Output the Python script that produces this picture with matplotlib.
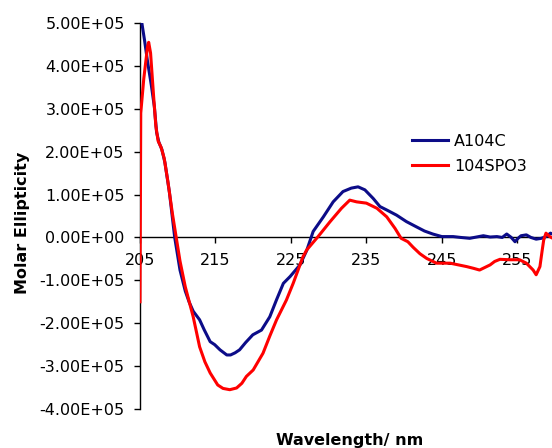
import numpy as np
import matplotlib
matplotlib.use("Agg")
import matplotlib.pyplot as plt
from matplotlib.ticker import MultipleLocator, FormatStrFormatter

# CD spectra, molar ellipticity in units of 1e5
wl_a104c = [205.2, 205.6, 206.0, 206.5, 206.9, 207.2, 207.5, 207.9, 208.3, 208.9,
            209.6, 210.3, 211.0, 211.5, 212.05, 212.9, 213.5, 214.3, 214.9, 215.6,
            216.5, 217.0, 217.6, 218.2, 219.0, 219.95, 221.1, 222.2, 223.1, 224.0,
            224.9, 226.2, 227.1, 227.95, 229.3, 230.6, 231.9, 233.0, 233.9, 234.8,
            235.9, 236.8, 237.7, 239.0, 240.3, 241.6, 242.7, 243.8, 245.0, 246.5,
            247.5, 248.7, 249.6, 250.5, 251.4, 252.3, 253.0, 253.6, 254.2, 254.7,
            255.1, 255.5, 256.2, 256.8, 257.5, 258.2, 258.8, 259.4, 260.0]
a104c = [5.05, 4.6, 4.1, 3.55, 3.05, 2.45, 2.22, 2.05, 1.75, 1.05,
         0.0, -0.76, -1.25, -1.5, -1.72, -1.92, -2.15, -2.43, -2.5, -2.62,
         -2.74, -2.74, -2.69, -2.62, -2.45, -2.27, -2.16, -1.85, -1.45, -1.07,
         -0.91, -0.64, -0.3, 0.14, 0.48, 0.83, 1.07, 1.15, 1.18, 1.11,
         0.91, 0.72, 0.64, 0.52, 0.37, 0.25, 0.15, 0.08, 0.02, 0.02,
         0.0, -0.02, 0.01, 0.04, 0.01, 0.02, 0.0, 0.08, 0.0, -0.1,
         -0.02, 0.04, 0.06, 0.0, -0.04, -0.02, 0.02, 0.1, 0.05]

wl_spo3 = [205.0, 205.1, 205.5, 206.0, 206.15, 206.4, 206.8, 207.1, 207.4, 207.8,
           208.2, 208.7, 209.3, 209.8, 210.3, 211.0, 212.05, 212.9, 213.6, 214.3,
           215.3, 216.0, 216.9, 217.8, 218.5, 219.1, 220.0, 221.3, 222.2, 223.1,
           224.4, 225.3, 226.6, 227.1, 228.6, 230.2, 231.7, 232.8, 233.7, 235.0,
           236.4, 237.7, 238.8, 239.6, 240.5, 241.2, 242.1, 243.0, 244.3, 246.1,
           247.2, 248.3, 249.2, 250.0, 250.7, 251.4, 252.0, 252.7, 254.0, 255.3,
           256.2, 257.1, 257.5, 258.0, 258.3, 258.5, 258.8, 259.3, 260.0]
spo3 = [-1.5, 2.9, 3.7, 4.45, 4.55, 4.3, 3.3, 2.6, 2.25, 2.1,
        1.85, 1.3, 0.55, 0.0, -0.55, -1.15, -1.85, -2.55, -2.9, -3.16,
        -3.44, -3.52, -3.55, -3.51, -3.4, -3.24, -3.09, -2.7, -2.3, -1.92,
        -1.46, -1.07, -0.45, -0.29, 0.02, 0.37, 0.68, 0.87, 0.83, 0.8,
        0.68, 0.48, 0.21, -0.02, -0.1, -0.23, -0.38, -0.49, -0.6, -0.6,
        -0.64, -0.68, -0.72, -0.76, -0.7, -0.64, -0.56, -0.51, -0.52, -0.52,
        -0.6, -0.76, -0.87, -0.68, -0.3, -0.06, 0.1, 0.02, -0.05]

labels = ["A104C", "104SPO3"]
colors = ["#0c0c88", "#ff0000"]
xticks = [205, 215, 225, 235, 245, 255]

plt.rcParams["font.family"] = "DejaVu Sans"
plt.rcParams["font.size"] = 11.5

fig = plt.figure(figsize=(5.52, 4.48), dpi=100)
ax = fig.add_axes([140 / 552, 39 / 448, 412 / 552, 386 / 448])

ax.plot(wl_a104c, np.array(a104c) * 1e5, color=colors[0], lw=2.2, label=labels[0], zorder=3)
ax.plot(wl_spo3, np.array(spo3) * 1e5, color=colors[1], lw=2.2, label=labels[1], zorder=4)

ax.set_xlim(205, 259.6)
ax.set_ylim(-4e5, 5e5)
ax.set_xticks(xticks)
ax.yaxis.set_major_locator(MultipleLocator(1e5))
ax.yaxis.set_major_formatter(FormatStrFormatter("%.2E"))

# x axis runs through zero, no box
ax.spines["bottom"].set_position(("data", 0))
ax.spines["top"].set_visible(False)
ax.spines["right"].set_visible(False)
ax.spines["left"].set_linewidth(1.0)
ax.spines["bottom"].set_linewidth(1.0)
ax.tick_params(direction="out", length=4, width=1, pad=7)

ax.set_ylabel("Molar Ellipticity", fontweight="bold")
ax.yaxis.set_label_coords(-0.267, 0.483)
ax.set_xlabel("Wavelength/ nm", fontweight="bold")
ax.xaxis.set_label_coords(0.508, -0.062)

fig.legend(loc="upper left", bbox_to_anchor=(411.7 / 552, 1 - 134 / 448),
           frameon=False, borderpad=0, borderaxespad=0,
           handlelength=2.3, handletextpad=0.35, labelspacing=0.6)

fig.savefig("out.png", dpi=100)
